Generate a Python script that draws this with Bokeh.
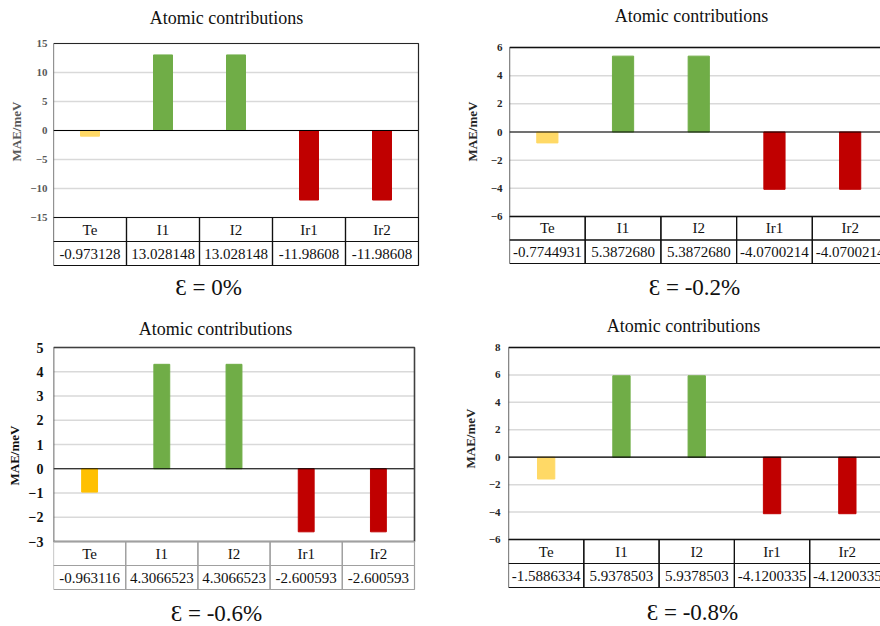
from bokeh.plotting import figure
from bokeh.models import Range1d, LinearAxis, FixedTicker, ColumnDataSource, Title
from bokeh.layouts import column, row
from bokeh.core.properties import value
from bokeh.embed import file_html
from bokeh.resources import INLINE

categories = ["Te", "I1", "I2", "Ir1", "Ir2"]

values_0 = [-0.973128, 13.028148, 13.028148, -11.98608, -11.98608]
texts_0 = ["-0.973128", "13.028148", "13.028148", "-11.98608", "-11.98608"]
ticks_0 = [-15, -10, -5, 0, 5, 10, 15]

values_02 = [-0.7744931, 5.3872680, 5.3872680, -4.0700214, -4.0700214]
texts_02 = ["-0.7744931", "5.3872680", "5.3872680", "-4.0700214", "-4.0700214"]
ticks_02 = [-6, -4, -2, 0, 2, 4, 6]

values_06 = [-0.963116, 4.3066523, 4.3066523, -2.600593, -2.600593]
texts_06 = ["-0.963116", "4.3066523", "4.3066523", "-2.600593", "-2.600593"]
ticks_06 = [-3, -2, -1, 0, 1, 2, 3, 4, 5]

values_08 = [-1.5886334, 5.9378503, 5.9378503, -4.1200335, -4.1200335]
texts_08 = ["-1.5886334", "5.9378503", "5.9378503", "-4.1200335", "-4.1200335"]
ticks_08 = [-6, -4, -2, 0, 2, 4, 6, 8]

title_text = "Atomic contributions"
ylabel_text = "MAE/meV"
captions = ["Ɛ = 0%", "Ɛ = -0.2%", "Ɛ = -0.6%", "Ɛ = -0.8%"]

GREEN = "#70AD47"
RED = "#C00000"
SERIF = "Liberation Serif"


def make_panel(vals, texts, ticks, caption, yellow, cfg):
    W, H, L = cfg["W"], cfg["H"], cfg["L"]
    ct, ch, rh, cell = cfg["ct"], cfg["ch"], cfg["rh"], cfg["cell"]
    fw = W - L
    n = len(categories)
    y0, y1 = ticks[0], ticks[-1]
    k = (y1 - y0) / ch
    tb = ct + ch + 2 * rh  # table bottom (pixels from top)
    p = figure(width=W, height=H, min_border_left=L, min_border_right=0,
               min_border_top=0, min_border_bottom=0,
               x_range=Range1d(0, fw / cell),
               y_range=Range1d(y0 - (H - ct - ch) * k, y1 + ct * k),
               x_axis_type=None, y_axis_type=None,
               output_backend="svg", toolbar_location=None)
    p.extra_y_ranges = {"tbl": Range1d((tb - H) / rh, tb / rh),
                        "py": Range1d(H, 0)}
    p.extra_x_ranges = {"px": Range1d(L, W)}
    p.background_fill_color = "white"
    p.border_fill_color = "white"
    p.outline_line_color = None

    ax = LinearAxis(ticker=FixedTicker(ticks=ticks),
                    major_tick_line_color=None, minor_tick_line_color=None,
                    major_tick_out=0, major_tick_in=0,
                    axis_line_color=None,
                    major_label_standoff=cfg["standoff"],
                    major_label_text_font=SERIF, major_label_text_font_style="bold",
                    major_label_text_font_size=cfg["tick_size"],
                    major_label_text_color=cfg["tick_color"])
    p.add_layout(ax, "left")
    p.add_layout(Title(text=ylabel_text, align="left", vertical_align="middle",
                       offset=cfg["y_off"], standoff=cfg["y_stand"],
                       text_font=SERIF, text_font_size="13px", text_font_style="bold",
                       text_color=cfg["tick_color"]), "left")

    # horizontal gridlines, restricted to the chart box
    p.segment(x0=[0] * len(ticks), x1=[n] * len(ticks), y0=ticks, y1=ticks,
              line_color="#D9D9D9", line_width=1.5)

    xs = [i + 0.5 for i in range(n)]
    colors = [yellow, GREEN, GREEN, RED, RED]
    src = ColumnDataSource(dict(x=xs, top=vals, color=colors))
    p.vbar(x="x", top="top", bottom=0, width=cfg["bw"], fill_color="color",
           line_color="color", source=src)
    # zero line
    p.segment(x0=[0], x1=[n], y0=[0], y1=[0], line_color="black", line_width=1.2)
    # chart box
    p.quad(left=[0], right=[n], bottom=[y0], top=[y1], fill_color=None,
           line_color=cfg["frame"], line_width=cfg["frame_w"])

    tsrc = ColumnDataSource(dict(
        left=[i for i in range(n)] * 2, right=[i + 1 for i in range(n)] * 2,
        bottom=[0] * n + [1] * n, top=[1] * n + [2] * n))
    p.quad(left="left", right="right", bottom="bottom", top="top", source=tsrc,
           fill_color=None, line_color=cfg["table"], line_width=1.2, y_range_name="tbl")
    p.text(x=xs, y=[1.5] * n, text=categories, y_range_name="tbl",
           text_font=value(SERIF), text_font_size="15px", text_align="center",
           text_baseline="middle", text_color="#111111")
    p.text(x=xs, y=[0.5] * n, text=texts, y_range_name="tbl",
           text_font=value(SERIF), text_font_size="15px", text_align="center",
           text_baseline="middle", text_color="#111111")
    # chart title and strain caption
    p.text(x=[cfg["title_xy"][0]], y=[cfg["title_xy"][1]], text=[title_text],
           x_range_name="px", y_range_name="py",
           text_font=value(SERIF), text_font_size="18px", text_align="center",
           text_baseline="middle", text_color="#111111")
    p.text(x=[cfg["cap_xy"][0]], y=[cfg["cap_xy"][1]], text=[caption],
           x_range_name="px", y_range_name="py",
           text_font=value(SERIF), text_font_size="23px", text_align="center",
           text_baseline="middle", text_color="#111111")
    return p


cfg1 = dict(W=440, H=310, L=53, ct=43, ch=174, rh=24, cell=73, bw=0.26,
            frame="#262626", frame_w=1.2, table="#111111", standoff=6,
            tick_size="11px", tick_color="#595959",
            title_xy=(226, 17), cap_xy=(208, 287), y_off=149, y_stand=6)
cfg2 = dict(W=440, H=310, L=69, ct=47, ch=169, rh=23.5, cell=75.7, bw=0.28,
            frame="#111111", frame_w=1.3, table="#111111", standoff=7,
            tick_size="11px", tick_color="#262626",
            title_xy=(251, 15), cap_xy=(254, 287), y_off=149, y_stand=14)
cfg3 = dict(W=440, H=316, L=53, ct=37, ch=194, rh=24, cell=72.2, bw=0.22,
            frame="#404040", frame_w=1.6, table="#A0A0A0", standoff=10,
            tick_size="14px", tick_color="#111111",
            title_xy=(215, 18), cap_xy=(216, 303), y_off=141, y_stand=6)
cfg4 = dict(W=440, H=316, L=68, ct=37, ch=192, rh=24, cell=75.3, bw=0.23,
            frame="#111111", frame_w=1.3, table="#111111", standoff=8,
            tick_size="11px", tick_color="#262626",
            title_xy=(243, 15), cap_xy=(252, 302), y_off=158, y_stand=14)

p1 = make_panel(values_0, texts_0, ticks_0, captions[0], "#FFD966", cfg1)
p2 = make_panel(values_02, texts_02, ticks_02, captions[1], "#FFD966", cfg2)
p3 = make_panel(values_06, texts_06, ticks_06, captions[2], "#FFC000", cfg3)
p4 = make_panel(values_08, texts_08, ticks_08, captions[3], "#FFD966", cfg4)

layout = column(row(p1, p2, spacing=0), row(p3, p4, spacing=0), spacing=0)
open("out.html", "w").write(file_html(layout, INLINE))
